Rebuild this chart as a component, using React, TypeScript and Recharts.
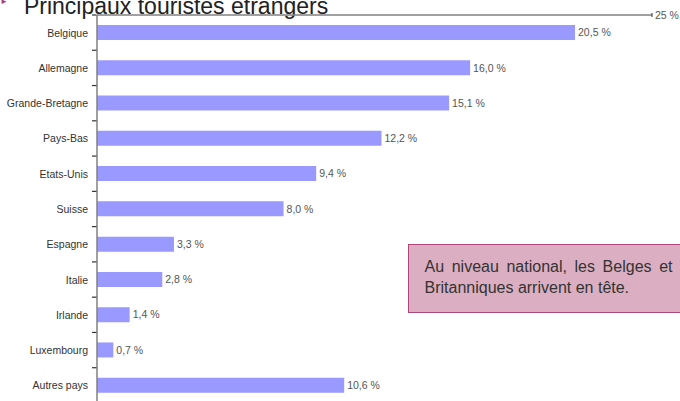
import { Bar, BarChart, LabelList, XAxis, YAxis } from "recharts";

const countries = [
  "Belgique",
  "Allemagne",
  "Grande-Bretagne",
  "Pays-Bas",
  "Etats-Unis",
  "Suisse",
  "Espagne",
  "Italie",
  "Irlande",
  "Luxembourg",
  "Autres pays",
];
const shares = [20.5, 16.0, 15.1, 12.2, 9.4, 8.0, 3.3, 2.8, 1.4, 0.7, 10.6];
const topTicks = [25];

const FONT = "'Liberation Sans', Arial, Helvetica, sans-serif";
const CHART_H = 404;
const MARGIN = { top: 0, right: 28, bottom: 1, left: 0 };
const TOP_AXIS_H = 15;
const bandHalf =
  (CHART_H - MARGIN.top - MARGIN.bottom - TOP_AXIS_H) / countries.length / 2;

const fmt = (v: number) => `${v.toFixed(1).replace(".", ",")} %`;

const data = countries.map((name, i) => ({ name, value: shares[i] }));

// x here sits 8px left of the axis line (tickSize 6 + tickMargin 2)
function CountryTick(props: any) {
  const { x, y, payload } = props;
  return (
    <g>
      <text
        x={x - 1}
        y={y}
        dy={4}
        textAnchor="end"
        fontSize={10.5}
        fill="#333"
        fontFamily={FONT}
      >
        {payload.value}
      </text>
      <line x1={x + 3} x2={x + 7.5} y1={y - bandHalf} y2={y - bandHalf} stroke="#333" strokeWidth={1.2} />
    </g>
  );
}

function TopTick(props: any) {
  const { x, y, payload } = props;
  return (
    <g>
      <line x1={x} x2={x} y1={y - 2} y2={y + 2} stroke="#333" strokeWidth={1} />
      <text x={x + 3} y={y} dy={4} fontSize={10.5} fill="#555" fontFamily={FONT}>
        {`${payload.value} %`}
      </text>
    </g>
  );
}

export default function App() {
  return (
    <div
      style={{
        position: "absolute",
        left: 0,
        top: 0,
        width: 680,
        height: 401,
        overflow: "hidden",
        background: "#fff",
        fontFamily: FONT,
      }}
    >
      <div
        style={{
          position: "absolute",
          left: 0,
          top: -11,
          fontSize: 23,
          color: "#222",
          whiteSpace: "nowrap",
          lineHeight: "26px",
        }}
      >
        <span style={{ color: "#b0407a", fontSize: 8, marginRight: 16, verticalAlign: "10px" }}>►</span>
        Principaux touristes étrangers
      </div>
      <BarChart
        width={680}
        height={CHART_H}
        data={data}
        layout="vertical"
        margin={MARGIN}
        barSize={15}
      >
        <XAxis
          xAxisId="v"
          type="number"
          domain={[0, 23.8]}
          allowDataOverflow
          hide
        />
        <XAxis
          xAxisId="top"
          type="number"
          orientation="top"
          domain={[0, 25]}
          ticks={topTicks}
          allowDataOverflow
          height={TOP_AXIS_H}
          tickSize={0}
          tickMargin={0}
          tick={<TopTick />}
          axisLine={{ stroke: "#808080", strokeWidth: 1.5 }}
        />
        <YAxis
          type="category"
          dataKey="name"
          width={97}
          tickLine={false}
          tick={<CountryTick />}
          axisLine={{ stroke: "#808080", strokeWidth: 1.5 }}
          interval={0}
        />
        <Bar dataKey="value" xAxisId="v" fill="#9999ff" isAnimationActive={false}>
          <LabelList
            dataKey="value"
            position="right"
            offset={3}
            formatter={(v: any) => fmt(Number(v))}
            style={{ fontSize: 10.5, fill: "#555", fontFamily: FONT }}
          />
        </Bar>
      </BarChart>
      <div
        style={{
          position: "absolute",
          left: 408,
          top: 244,
          width: 248,
          height: 42,
          padding: "10.5px 20px 14.5px 15.5px",
          background: "#dbafc1",
          border: "1.5px solid #b0457a",
          fontSize: 16,
          lineHeight: "21px",
          color: "#333",
          textAlign: "justify",
        }}
      >
        Au niveau national, les Belges et Britanniques arrivent en tête.
      </div>
    </div>
  );
}
